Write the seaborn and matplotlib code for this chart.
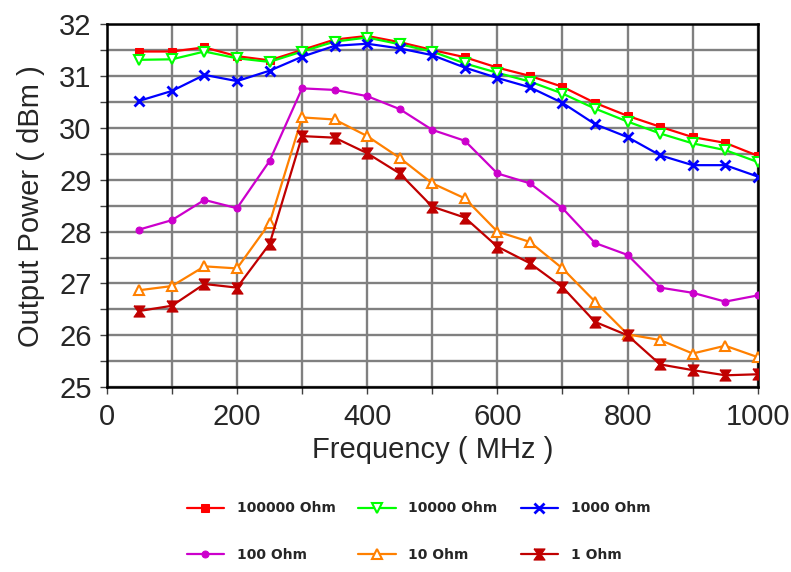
import matplotlib
matplotlib.use('Agg')
import matplotlib.pyplot as plt
import seaborn as sns
import numpy as np
import pandas as pd
from matplotlib.ticker import MultipleLocator

freq = [50, 100, 150, 200, 250, 300, 350, 400, 450, 500,
        550, 600, 650, 700, 750, 800, 850, 900, 950, 1000]

ohm_100000 = [31.47, 31.47, 31.55, 31.38, 31.30, 31.50, 31.70, 31.77, 31.65, 31.50,
              31.36, 31.16, 31.00, 30.79, 30.48, 30.23, 30.02, 29.82, 29.71, 29.46]
ohm_10000 = [31.31, 31.32, 31.47, 31.34, 31.27, 31.47, 31.66, 31.74, 31.61, 31.47,
             31.24, 31.06, 30.89, 30.66, 30.37, 30.12, 29.89, 29.70, 29.57, 29.34]
ohm_1000 = [30.52, 30.71, 31.02, 30.90, 31.10, 31.37, 31.58, 31.62, 31.53, 31.40,
            31.16, 30.96, 30.78, 30.48, 30.07, 29.82, 29.47, 29.28, 29.28, 29.06]
ohm_100 = [28.04, 28.22, 28.61, 28.45, 29.36, 30.76, 30.73, 30.61, 30.36, 29.96,
           29.75, 29.12, 28.93, 28.45, 27.78, 27.55, 26.92, 26.82, 26.65, 26.77]
ohm_10 = [26.87, 26.95, 27.33, 27.29, 28.16, 30.20, 30.16, 29.84, 29.42, 28.93,
          28.64, 28.00, 27.80, 27.29, 26.65, 26.02, 25.91, 25.65, 25.80, 25.58]
ohm_1 = [26.47, 26.57, 26.99, 26.92, 27.76, 29.84, 29.81, 29.51, 29.12, 28.48,
         28.27, 27.71, 27.39, 26.93, 26.26, 26.00, 25.44, 25.33, 25.23, 25.25]

labels = ['100000 Ohm', '10000 Ohm', '1000 Ohm', '100 Ohm', '10 Ohm', '1 Ohm']
series = [ohm_100000, ohm_10000, ohm_1000, ohm_100, ohm_10, ohm_1]
colors = ['#FF0000', '#00FF00', '#0000FF', '#CC00CC', '#FF8000', '#C00000']

# hourglass marker for the 1 Ohm curve
hourglass = [(-1, 1), (1, 1), (0.3, 0), (1, -1), (-1, -1), (-0.3, 0), (-1, 1)]
marker_styles = [
    dict(marker='s', markersize=6, markerfacecolor=colors[0]),
    dict(marker='v', markersize=7, markerfacecolor='white', markeredgewidth=1.5),
    dict(marker='x', markersize=7, markeredgewidth=2),
    dict(marker='o', markersize=5, markerfacecolor=colors[3]),
    dict(marker='^', markersize=7, markerfacecolor='white', markeredgewidth=1.5),
    dict(marker=hourglass, markersize=8, markerfacecolor=colors[5]),
]

sns.set_style('white')
plt.rcParams['font.family'] = ['Liberation Sans', 'DejaVu Sans']

fig = plt.figure(figsize=(7.91, 5.72), dpi=100)
ax = fig.add_axes([0.135, 0.323, 0.823, 0.635])

for vals, lab, col, ms in zip(series, labels, colors, marker_styles):
    df = pd.DataFrame({'Frequency': freq, 'Power': vals})
    sns.lineplot(data=df, x='Frequency', y='Power', color=col, linewidth=1.6,
                 markeredgecolor=col, label=lab, ax=ax, zorder=3, **ms)

ax.set_xlim(0, 1000)
ax.set_ylim(25, 32)
ax.xaxis.set_major_locator(MultipleLocator(200))
ax.xaxis.set_minor_locator(MultipleLocator(100))
ax.yaxis.set_major_locator(MultipleLocator(1))
ax.yaxis.set_minor_locator(MultipleLocator(0.5))
ax.grid(which='both', color='#808080', linewidth=1.7)
ax.set_axisbelow(True)

ax.tick_params(axis='both', which='both', direction='out', length=5, width=1,
               color='#404040', labelsize=21, pad=6, bottom=True, left=True)
for sp in ax.spines.values():
    sp.set_color('black')
    sp.set_linewidth(1.8)

ax.set_xlabel('Frequency ( MHz )', fontsize=21, labelpad=4)
ax.set_ylabel('Output Power ( dBm )', fontsize=21, labelpad=10)

# legend filled row by row: 100000/10000/1000 on top, 100/10/1 below
handles, labs = ax.get_legend_handles_labels()
order = [0, 3, 1, 4, 2, 5]
fig.legend([handles[i] for i in order], [labs[i] for i in order],
           loc='upper left', bbox_to_anchor=(0.229, 0.133), borderaxespad=0,
           ncol=3, frameon=False, handlelength=2.7, handletextpad=0.9,
           columnspacing=1.65, labelspacing=2.35,
           prop={'family': 'DejaVu Sans', 'weight': 'bold', 'size': 10})
ax.get_legend().remove()

fig.savefig('out.png', dpi=100)
